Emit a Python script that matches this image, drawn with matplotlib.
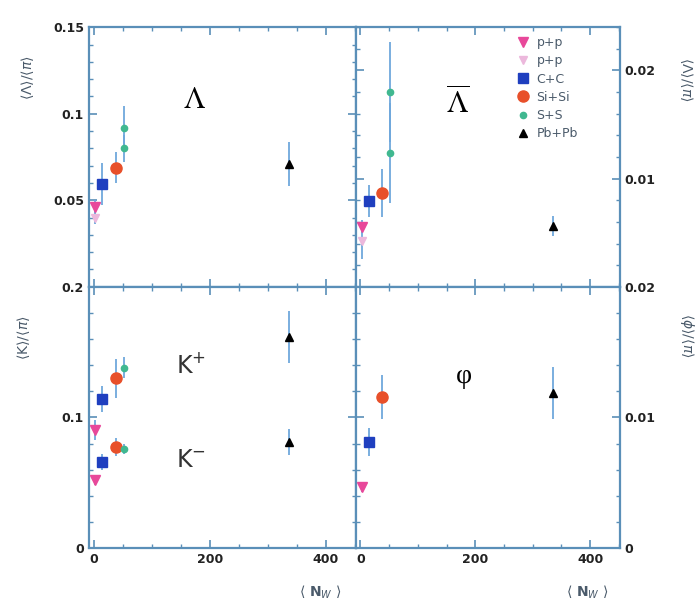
#!/usr/bin/env python3

from matplotlib import pyplot as plt
from matplotlib.ticker import MultipleLocator

# system size <N_W>
n_w = {"pp": 3, "CC": 15, "SiSi": 38, "SS": 52, "PbPb": 336}

# <Lambda>/<pi>
lam_pp = [0.046, 0.004]
lam_pp2 = [0.040, 0.004]
lam_cc = [0.0594, 0.012]
lam_sisi = [0.0687, 0.009]
lam_ss = [[0.0917, 0.080], [0.013, 0.008]]
lam_pbpb = [0.071, 0.0125]

# <anti-Lambda>/<pi>
alam_pp = [0.00554, 0.0006]
alam_pp2 = [0.00425, 0.0017]
alam_cc = [0.00794, 0.0015]
alam_sisi = [0.00868, 0.0022]
alam_ss = [[0.0180, 0.01237], [0.0046, 0.0046]]
alam_pbpb = [0.00563, 0.0009]

# <K+>/<pi> and <K->/<pi>
kp_vals = {"pp": [0.0904, 0.008], "CC": [0.114, 0.010], "SiSi": [0.130, 0.015],
           "SS": [0.138, 0.008], "PbPb": [0.1617, 0.020]}
km_vals = {"pp": [0.052, 0.004], "CC": [0.066, 0.006], "SiSi": [0.0774, 0.007],
           "SS": [0.0759, 0.004], "PbPb": [0.0812, 0.010]}

# <phi>/<pi>
phi_vals = {"pp": [0.00467, 0.0004], "CC": [0.00812, 0.0011],
            "SiSi": [0.01157, 0.0017], "PbPb": [0.01188, 0.002]}

legend_labels = ["p+p", "p+p", "C+C", "Si+Si", "S+S", "Pb+Pb"]

style = {
    "pp": dict(marker="v", color="#e8489a", ms=6.5),
    "pp2": dict(marker="v", color="#ecb8dc", ms=6),
    "CC": dict(marker="s", color="#1f3fbf", ms=7.5),
    "SiSi": dict(marker="o", color="#e8502a", ms=8),
    "SS": dict(marker="o", color="#40b890", ms=4.5),
    "PbPb": dict(marker="^", color="black", ms=5.5),
}
ecol = "#6fa8dc"
axcol = "#5a8fb8"
txtcol = "#4a5a6a"


def point(ax, key, x, y, err):
    st = style[key]
    return ax.errorbar(x, y, yerr=err, fmt=st["marker"], color=st["color"],
                       ms=st["ms"], mec=st["color"], ecolor=ecol, elinewidth=1.3,
                       capsize=0, zorder=3)


def style_axes(ax):
    for s in ax.spines.values():
        s.set_color(axcol)
        s.set_linewidth(1.6)
    ax.tick_params(which="both", direction="in", top=True, right=True,
                   left=True, bottom=True, colors=axcol, labelcolor="#222222")
    ax.tick_params(which="major", length=6, width=1.2)
    ax.tick_params(which="minor", length=3, width=1.0)
    ax.set_xlim(-8, 452)
    ax.xaxis.set_major_locator(MultipleLocator(200))
    ax.xaxis.set_minor_locator(MultipleLocator(50))
    for lab in ax.get_xticklabels() + ax.get_yticklabels():
        lab.set_fontweight("bold")
        lab.set_fontsize(9)


fig = plt.figure(figsize=(6.95, 6.05), dpi=100)
ax_tl = fig.add_axes([0.128, 0.526, 0.384, 0.429])
ax_tr = fig.add_axes([0.512, 0.526, 0.380, 0.429])
ax_bl = fig.add_axes([0.128, 0.094, 0.384, 0.432])
ax_br = fig.add_axes([0.512, 0.094, 0.380, 0.432])

# top left: Lambda
point(ax_tl, "pp", n_w["pp"], *lam_pp)
point(ax_tl, "pp2", n_w["pp"], *lam_pp2)
point(ax_tl, "CC", n_w["CC"], *lam_cc)
point(ax_tl, "SiSi", n_w["SiSi"], *lam_sisi)
point(ax_tl, "SS", [n_w["SS"]] * 2, *lam_ss)
point(ax_tl, "PbPb", n_w["PbPb"], *lam_pbpb)
ax_tl.set_ylim(0, 0.15)
ax_tl.set_yticks([0.05, 0.1, 0.15], ["0.05", "0.1", "0.15"])
ax_tl.yaxis.set_minor_locator(MultipleLocator(0.01))
ax_tl.set_xticklabels([])
ax_tl.text(173, 0.108, r"$\Lambda$", fontsize=22, math_fontfamily="stix",
           ha="center", va="center")

# top right: anti-Lambda
handles = []
handles.append(point(ax_tr, "pp", n_w["pp"], *alam_pp))
handles.append(point(ax_tr, "pp2", n_w["pp"], *alam_pp2))
handles.append(point(ax_tr, "CC", n_w["CC"], *alam_cc))
handles.append(point(ax_tr, "SiSi", n_w["SiSi"], *alam_sisi))
handles.append(point(ax_tr, "SS", [n_w["SS"]] * 2, *alam_ss))
handles.append(point(ax_tr, "PbPb", n_w["PbPb"], *alam_pbpb))
ax_tr.set_ylim(0, 0.024)
ax_tr.yaxis.tick_right()
ax_tr.set_yticks([0.01, 0.02], ["0.01", "0.02"])
ax_tr.yaxis.set_minor_locator(MultipleLocator(0.002))
ax_tr.set_xticklabels([])
ax_tr.text(170, 0.0170, r"$\overline{\Lambda}$", fontsize=22,
           math_fontfamily="stix", ha="center", va="center")
leg = ax_tr.legend([h[0] for h in handles], legend_labels, loc="upper left",
                   bbox_to_anchor=(0.58, 0.995), frameon=False, fontsize=9,
                   labelspacing=0.42, handlelength=1.0, handletextpad=0.6,
                   borderaxespad=0.2)
for t in leg.get_texts():
    t.set_color(txtcol)

# bottom left: K+ and K-
for key in ["pp", "CC", "SiSi", "SS", "PbPb"]:
    point(ax_bl, key, n_w[key], *kp_vals[key])
    point(ax_bl, key, n_w[key], *km_vals[key])
ax_bl.set_ylim(0, 0.2)
ax_bl.set_yticks([0, 0.1, 0.2], ["0", "0.1", "0.2"])
ax_bl.yaxis.set_minor_locator(MultipleLocator(0.02))
ax_bl.set_xticks([0, 200, 400], ["0", "200", "400"])
ax_bl.text(168, 0.1395, r"K$^{+}$", fontsize=17, ha="center", va="center",
           color="#333333")
ax_bl.text(168, 0.0674, r"K$^{-}$", fontsize=17, ha="center", va="center",
           color="#333333")

# bottom right: phi
for key in ["pp", "CC", "SiSi", "PbPb"]:
    point(ax_br, key, n_w[key], *phi_vals[key])
ax_br.set_ylim(0, 0.02)
ax_br.yaxis.tick_right()
ax_br.set_yticks([0, 0.01, 0.02], ["0", "0.01", "0.02"])
ax_br.yaxis.set_minor_locator(MultipleLocator(0.002))
ax_br.set_xticks([0, 200, 400], ["0", "200", "400"])
ax_br.text(180, 0.0131, "φ", fontsize=20,
           family=["Liberation Serif", "DejaVu Serif"],
           ha="center", va="center")

for ax in [ax_tl, ax_tr, ax_bl, ax_br]:
    style_axes(ax)

# axis titles
fig.text(0.039, 0.872, r"$\langle\Lambda\rangle / \langle\pi\rangle$",
         rotation=90, ha="center", va="center", fontsize=10, color=txtcol)
fig.text(0.034, 0.441, r"$\langle$K$\rangle / \langle\pi\rangle$",
         rotation=90, ha="center", va="center", fontsize=10, color=txtcol)
fig.text(0.988, 0.868, r"$\langle\overline{\Lambda}\rangle / \langle\pi\rangle$",
         rotation=-90, ha="center", va="center", fontsize=10, color=txtcol)
fig.text(0.988, 0.446, r"$\langle\phi\rangle / \langle\pi\rangle$",
         rotation=-90, ha="center", va="center", fontsize=10, color=txtcol)
fig.text(0.461, 0.021, r"$\langle$ N$_W$ $\rangle$", ha="center",
         va="center", fontsize=10, color=txtcol, fontweight="bold")
fig.text(0.846, 0.021, r"$\langle$ N$_W$ $\rangle$", ha="center",
         va="center", fontsize=10, color=txtcol, fontweight="bold")

fig.savefig("out.png", dpi=100)
plt.close(fig)
